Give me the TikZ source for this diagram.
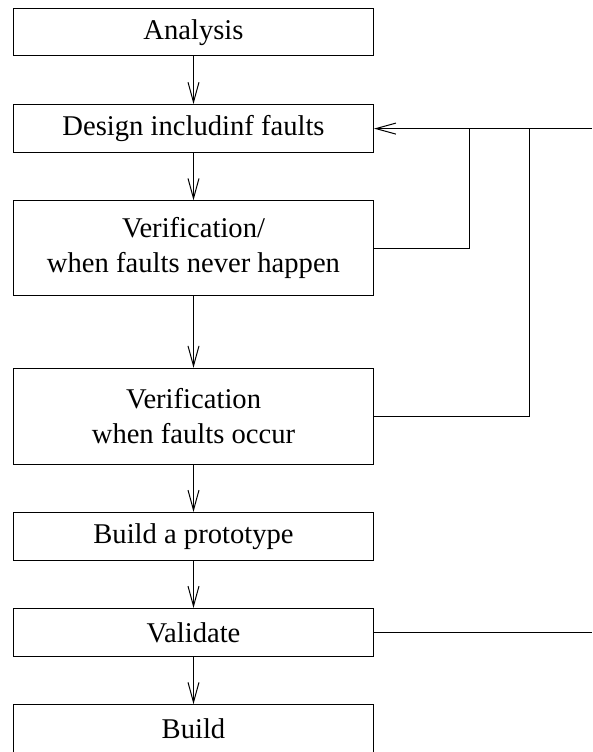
\documentclass[tikz,border=0pt]{standalone}
\usepackage{fontspec}
\setmainfont{Liberation Serif}
\usetikzlibrary{arrows.meta}
\tikzset{
  stage/.style={draw, line width=1pt, rectangle, minimum width=360pt,
    inner sep=0pt, align=center, font=\fontsize{28.6}{35}\selectfont},
  flow/.style={line width=1pt, -{Straight Barb[length=20pt,width=11pt,line width=1pt]}},
  loop/.style={line width=1pt}
}
\begin{document}
\begin{tikzpicture}[x=1pt,y=-1pt]
  \useasboundingbox (0,0) rectangle (592,752);
  \clip (0,0) rectangle (592,752);

  \node[stage, minimum height=47pt] (ana) at (193.5,32.5) {Analysis};
  \node[stage, minimum height=48pt] (des) at (193.5,128.6) {Design includinf faults};
  \node[stage, minimum height=95pt] (ver1) at (193.5,248.3) {Verification/\\when faults never happen};
  \node[stage, minimum height=96pt] (ver2) at (193.5,416.3) {Verification\\when faults occur};
  \node[stage, minimum height=48pt] (proto) at (193.5,536.5) {Build a prototype};
  \node[stage, minimum height=48pt] (val) at (193.5,632.5) {Validate};
  \node[stage, minimum height=48pt] (bld) at (193.5,728.7) {Build};

  % main sequence
  \draw[flow] (ana) -- (des);
  \draw[flow] (des) -- (ver1);
  \draw[flow] (ver1) -- (ver2);
  \draw[flow] (ver2) -- (proto);
  \draw[flow] (proto) -- (val);
  \draw[flow] (val) -- (bld);

  % feedback paths back to the design stage
  \coordinate (ret) at (592,128.6);
  \coordinate (in1) at (469.7,128.6);
  \coordinate (in2) at (529.3,128.6);
  \coordinate (vout) at (592,632.5);
  \draw[flow] (ret) -- (des.east);
  \draw[loop] (ver1.east) -| (in1);
  \draw[loop] (ver2.east) -| (in2);
  \draw[loop] (val.east) -- (vout);
\end{tikzpicture}
\end{document}
